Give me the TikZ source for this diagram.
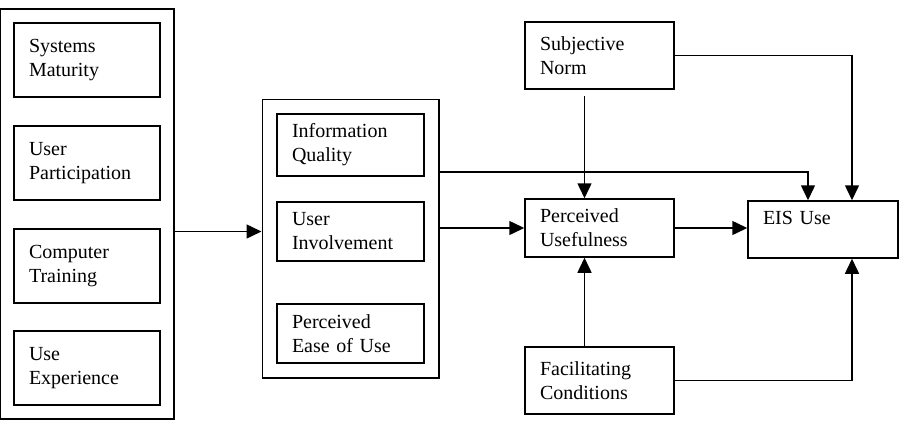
\documentclass[tikz,border=0pt]{standalone}
\usepackage{fontspec}
\setmainfont{Liberation Serif}
\usepackage{tikz}
\usetikzlibrary{positioning,arrows.meta,fit,calc}

\begin{document}
\begin{tikzpicture}[x=1pt,y=-1pt,
  every node/.style={font=\fontsize{20}{24}\selectfont},
  box/.style={draw,line width=1.5pt,align=left,inner ysep=0pt,inner xsep=15pt},
  grp/.style={draw,line width=1.5pt,inner sep=#1},
  arr/.style={-{Triangle[length=15pt,width=14pt]},line width=1.5pt}]
\useasboundingbox (-1,0) rectangle (898,428);
% antecedents
\node[box,text width=116pt,minimum width=146pt,minimum height=74pt] (sysmat) at (86,60) {Systems\\Maturity};
\node[box,text width=116pt,minimum width=146pt,minimum height=74pt] (userpart) at (86,163) {User\\Participation};
\node[box,text width=116pt,minimum width=146pt,minimum height=74pt] (comptrain) at (86,266) {Computer\\Training};
\node[box,text width=116pt,minimum width=146pt,minimum height=74pt] (useexp) at (86,368) {Use\\Experience};
\node[grp=13pt,fit=(sysmat)(useexp)] (leftgrp) {};
% beliefs
\node[box,text width=117pt,minimum width=147pt,minimum height=62pt] (infoq) at (349.5,145) {Information\\Quality};
\node[box,text width=117pt,minimum width=147pt,minimum height=59pt] (userinv) at (349.5,231.5) {User\\Involvement};
\node[box,text width=117pt,minimum width=147pt,minimum height=59pt] (peou) at (349.5,333.5) {Perceived\\Ease of Use};
\node[grp=14pt,fit=(infoq)(peou)] (midgrp) {};
% right side
\node[box,text width=119pt,minimum width=149pt,minimum height=67pt] (subnorm) at (598.5,55.5) {Subjective\\Norm};
\node[box,text width=119pt,minimum width=149pt,minimum height=58pt] (perus) at (598.5,228) {Perceived\\Usefulness};
\node[box,text width=119pt,minimum width=149pt,minimum height=67pt] (facil) at (598.5,380.5) {Facilitating\\Conditions};
\node[box,text width=120pt,minimum width=150pt,minimum height=57pt] (eisuse) at (822,229.5) {EIS Use\\\mbox{}};
\coordinate (iqout) at (midgrp.east |- 0,172);
% connectors
\draw[arr] (leftgrp.east |- userinv) -- (midgrp.west |- userinv);
\draw[arr] (midgrp.east |- perus) -- (perus);
\draw[arr] (iqout) -| ([xshift=-15pt]eisuse.north);
\draw[arr] (subnorm.east) -| ([xshift=29pt]eisuse.north);
\draw[arr,shorten <=6pt] ([xshift=-15pt]subnorm.south) -- ([xshift=-15pt]perus.north);
\draw[arr] (facil.east) -| ([xshift=29pt]eisuse.south);
\draw[arr] ([xshift=-15pt]facil.north) -- ([xshift=-15pt]perus.south);
\draw[arr] (perus) -- (perus -| eisuse.west);
\end{tikzpicture}
\end{document}
